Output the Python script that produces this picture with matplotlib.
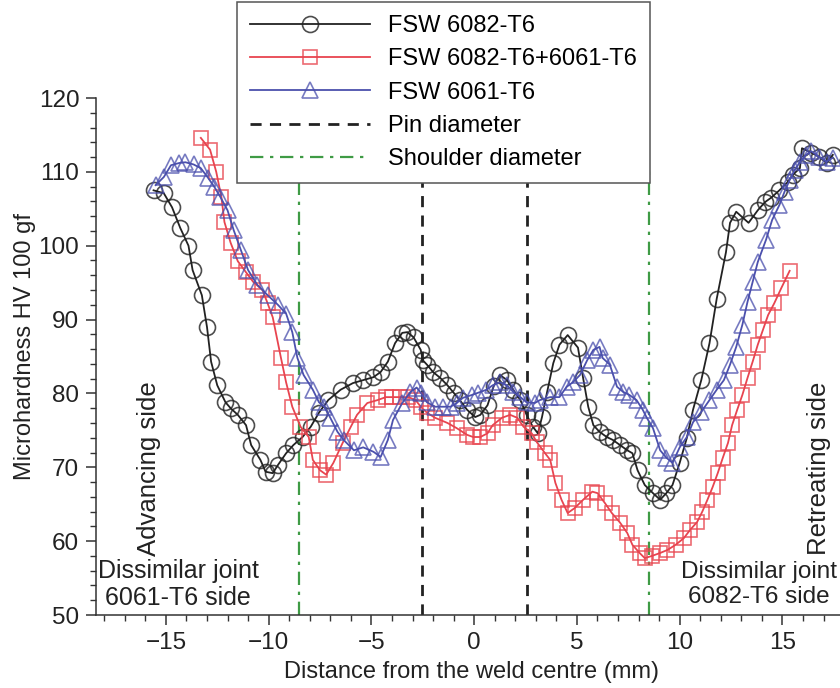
import numpy as np
import matplotlib
matplotlib.use("Agg")
import matplotlib.pyplot as plt

plt.rcParams['font.family'] = ['Liberation Sans', 'DejaVu Sans']

# FSW 6082-T6
x_6082 = [-15.6, -15.1, -14.7, -14.3, -13.9, -13.7, -13.25, -13.0, -12.8, -12.5,
          -12.1, -11.85, -11.5, -11.1, -10.85, -10.4, -10.15, -9.8, -9.55, -9.15,
          -8.8, -8.35, -7.95, -7.55, -7.1, -6.5, -5.9, -5.4, -4.9, -4.55,
          -4.2, -3.85, -3.5, -3.25, -2.95, -2.6, -2.5, -2.3, -2.0, -1.65,
          -1.3, -1.0, -0.7, -0.35, 0.05, 0.3, 0.65, 0.95, 1.25, 1.6,
          1.9, 2.25, 2.55, 2.85, 3.1, 3.3, 3.55, 3.85, 4.15, 4.55,
          5.05, 5.3, 5.55, 5.8, 6.1, 6.45, 6.75, 7.1, 7.45, 7.7,
          7.95, 8.3, 8.7, 9.05, 9.35, 9.65, 10.0, 10.35, 10.65, 11.05,
          11.45, 11.8, 12.25, 12.45, 12.75, 13.35, 13.8, 14.15, 14.45, 14.85,
          15.25, 15.5, 15.85, 15.95, 16.4, 16.8, 17.15, 17.45]
y_6082 = [107.5, 107.1, 105.2, 102.4, 100.0, 96.7, 93.3, 89.0, 84.3, 81.1,
          78.8, 78.0, 77.1, 75.7, 73.0, 71.0, 69.4, 69.2, 70.3, 71.9,
          73.0, 74.1, 75.5, 77.4, 79.1, 80.5, 81.4, 81.8, 82.2, 82.9,
          84.3, 86.8, 88.2, 88.3, 87.6, 85.9, 84.5, 83.9, 82.9, 82.1,
          81.1, 80.1, 79.1, 77.8, 76.8, 77.1, 78.4, 81.0, 82.5, 81.8,
          80.5, 79.1, 77.1, 75.5, 74.6, 76.8, 80.2, 84.1, 86.6, 87.9,
          86.2, 82.1, 78.2, 75.7, 74.8, 74.1, 73.7, 73.0, 72.3, 71.9,
          69.6, 67.6, 66.5, 65.6, 66.5, 67.6, 70.6, 74.0, 77.8, 81.8,
          86.8, 92.8, 99.1, 103.1, 104.6, 103.1, 104.8, 105.9, 106.5, 107.5,
          108.6, 109.6, 110.5, 113.2, 112.6, 112.0, 111.2, 112.3]

# FSW 6082-T6+6061-T6
x_mix = [-13.3, -12.85, -12.55, -12.3, -12.15, -11.85, -11.5, -11.1, -10.75, -10.3,
         -10.05, -9.8, -9.4, -9.15, -8.85, -8.45, -8.05, -7.85, -7.5, -7.2,
         -6.85, -6.4, -6.0, -5.7, -5.2, -4.7, -4.3, -4.0, -3.6, -3.2,
         -2.85, -2.6, -2.3, -1.9, -1.3, -0.85, -0.35, -0.05, 0.3, 0.65,
         0.9, 1.35, 1.75, 2.1, 2.4, 2.8, 3.05, 3.45, 3.7, 3.95,
         4.25, 4.55, 4.9, 5.3, 5.75, 6.0, 6.35, 6.7, 7.1, 7.45,
         7.7, 8.05, 8.3, 8.65, 9.05, 9.4, 9.8, 10.2, 10.5, 10.85,
         11.1, 11.35, 11.6, 11.85, 12.1, 12.35, 12.55, 12.8, 13.05, 13.3,
         13.55, 13.8, 14.05, 14.3, 14.6, 14.95, 15.35]
y_mix = [114.6, 113.0, 110.0, 106.6, 103.2, 100.4, 97.9, 96.4, 95.1, 94.0,
         92.2, 90.3, 84.8, 81.5, 78.2, 75.5, 74.1, 71.0, 69.6, 69.0,
         70.6, 73.3, 75.5, 77.1, 78.7, 79.1, 79.5, 79.5, 79.5, 79.5,
         79.1, 78.2, 77.4, 76.7, 76.0, 75.3, 74.4, 74.1, 74.1, 74.6,
         75.7, 76.7, 77.1, 76.7, 75.5, 74.6, 73.4, 71.9, 71.0, 67.9,
         65.6, 63.8, 64.5, 65.6, 66.7, 66.5, 65.2, 63.8, 62.5, 61.1,
         59.5, 58.4, 57.7, 58.0, 58.4, 58.8, 59.5, 60.4, 61.5, 62.6,
         64.0, 65.6, 67.3, 69.2, 71.3, 73.3, 75.7, 77.8, 79.8, 82.1,
         84.3, 86.6, 88.6, 90.6, 92.2, 94.3, 96.6]

# FSW 6061-T6
x_6061 = [-15.5, -15.1, -14.75, -14.35, -14.05, -13.65, -13.3, -12.95, -12.65, -12.35,
          -12.0, -11.7, -11.35, -11.0, -10.55, -10.05, -9.55, -9.15, -8.85, -8.6,
          -8.3, -7.85, -7.55, -7.3, -7.0, -6.65, -6.35, -5.85, -5.4, -4.9,
          -4.55, -4.2, -3.95, -3.5, -3.1, -2.8, -2.6, -2.3, -1.9, -1.5,
          -1.15, -0.85, -0.55, -0.1, 0.2, 0.6, 0.9, 1.25, 1.6, 1.9,
          2.25, 2.55, 2.95, 3.2, 3.7, 4.15, 4.5, 4.8, 5.15, 5.5,
          5.8, 6.1, 6.25, 6.6, 6.95, 7.25, 7.55, 7.9, 8.2, 8.4,
          8.7, 9.05, 9.35, 9.65, 10.0, 10.35, 10.65, 11.05, 11.45, 11.8,
          12.15, 12.45, 12.75, 13.05, 13.3, 13.55, 13.8, 14.2, 14.5, 14.85,
          15.1, 15.35, 15.6, 15.85, 16.15, 16.4, 16.8, 17.15, 17.45]
y_6061 = [108.2, 109.3, 110.9, 111.2, 111.3, 111.0, 110.5, 109.2, 108.0, 106.6,
          104.8, 102.1, 99.4, 96.7, 94.7, 93.3, 92.0, 90.8, 88.3, 84.8,
          82.5, 80.5, 78.8, 78.2, 76.7, 74.8, 73.7, 72.3, 72.7, 72.1,
          71.4, 73.7, 76.4, 78.7, 80.2, 80.8, 80.1, 78.8, 78.2, 78.2,
          78.2, 78.7, 79.4, 79.8, 80.1, 80.5, 81.1, 81.5, 81.1, 80.2,
          79.5, 78.8, 78.7, 79.1, 79.5, 79.5, 80.9, 81.5, 82.5, 84.5,
          85.9, 86.3, 84.8, 83.9, 80.9, 80.2, 79.8, 79.1, 77.8, 76.7,
          75.3, 72.3, 71.3, 70.6, 72.7, 74.1, 76.1, 77.5, 79.1, 80.5,
          81.8, 83.9, 86.3, 89.3, 92.4, 95.1, 97.8, 100.8, 103.5, 105.5,
          107.3, 108.9, 110.3, 111.3, 112.3, 112.8, 112.0, 111.4, 111.9]

pin = [-2.55, 2.55]
shoulder = [-8.5, 8.5]

fig = plt.figure(figsize=(8.4, 6.88), dpi=100)
ax = fig.add_axes([96/840, 1-615/688, 1-96/840, (615-98)/688])

black = '#222222'
red = '#e8444f'
blue = '#4b50ad'
green = '#3f9b45'
txt = '#222222'

ax.plot(x_6082, y_6082, '-', color=black, lw=1.3, marker='o', ms=11.5,
        mfc='none', mec=(0.13, 0.13, 0.13, 0.8), mew=1.2, label='FSW 6082-T6', zorder=3)
ax.plot(x_mix, y_mix, '-', color=red, lw=1.3, marker='s', ms=10,
        mfc='none', mec=(0.91, 0.27, 0.31, 0.8), mew=1.2, label='FSW 6082-T6+6061-T6', zorder=3)
ax.plot(x_6061, y_6061, '-', color=blue, lw=1.3, marker='^', ms=12,
        mfc='none', mec=(0.29, 0.31, 0.68, 0.75), mew=1.2, label='FSW 6061-T6', zorder=3)

for i, xv in enumerate(pin):
    ax.plot([xv, xv], [50, 110.5], color=black, lw=2, ls=(0, (4, 3)),
            label='Pin diameter' if i == 0 else None, zorder=2)
for i, xv in enumerate(shoulder):
    ax.plot([xv, xv], [50, 110.5], color=green, lw=1.6, ls=(0, (6, 3, 1.5, 3)),
            label='Shoulder diameter' if i == 0 else None, zorder=2)

ax.set_xlim(-18.4, 17.8)
ax.set_ylim(50, 120)
ax.set_xticks([-15, -10, -5, 0, 5, 10, 15])
ax.set_xticks(np.arange(-18, 18, 1), minor=True)
ax.set_yticks(np.arange(50, 121, 10))
ax.set_yticks(np.arange(50, 121, 2), minor=True)
for s in ['top', 'right']:
    ax.spines[s].set_visible(False)
for s in ['left', 'bottom']:
    ax.spines[s].set_color('#333333')
    ax.spines[s].set_linewidth(1.1)
ax.tick_params(which='major', length=7, width=1.1, color='#333333',
               labelsize=17.5, labelcolor=txt, pad=5)
ax.tick_params(which='minor', length=4, width=1, color='#333333')

fig.text(25/840, 1-346/688, 'Microhardness HV 100 gf', rotation=90,
         ha='center', va='center', fontsize=17, color=txt)
fig.text(472/840, 1-672/688, 'Distance from the weld centre (mm)',
         ha='center', va='center', fontsize=17, color=txt)

ax.text(-15.8, 69.8, 'Advancing side', rotation=90, ha='center', va='center',
        fontsize=18.5, color=txt)
ax.text(16.8, 69.8, 'Retreating side', rotation=90, ha='center', va='center',
        fontsize=18.5, color=txt)
ax.text(-14.4, 54.1, 'Dissimilar joint\n6061-T6 side', ha='center', va='center',
        fontsize=18, color=txt, linespacing=1.15)
ax.text(13.85, 54.1, 'Dissimilar joint\n6082-T6 side', ha='center', va='center',
        fontsize=17.5, color=txt, linespacing=1.2)

leg = fig.legend(loc='upper left', bbox_to_anchor=(237/840, 1-2/688),
                 fontsize=17, numpoints=1, handlelength=5.1, handletextpad=0.75,
                 labelspacing=0.48, fancybox=False, framealpha=1,
                 edgecolor='#555555', borderpad=0.55, borderaxespad=0)
leg.get_frame().set_linewidth(1.1)

fig.savefig('out.png', dpi=100)
